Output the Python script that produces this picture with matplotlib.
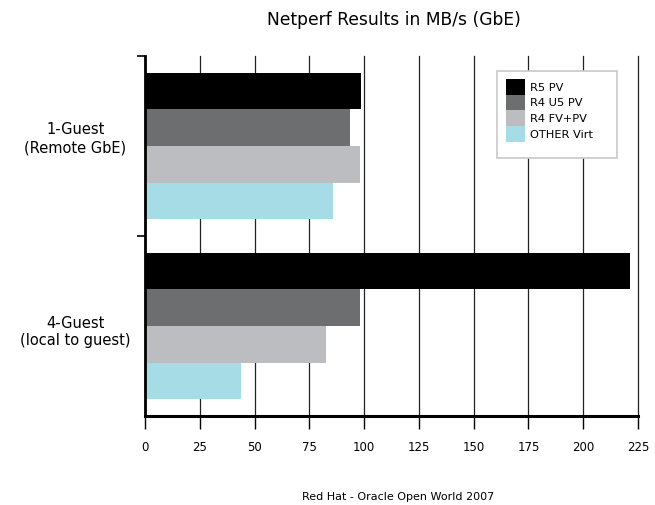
import matplotlib
matplotlib.use("Agg")
import matplotlib.pyplot as plt
from matplotlib.patches import Rectangle
from matplotlib.transforms import ScaledTranslation
import numpy as np

categories = ["1-Guest\n(Remote GbE)", "4-Guest\n(local to guest)"]
series_names = ["R5 PV", "R4 U5 PV", "R4 FV+PV", "OTHER Virt"]
series_values = {
    "R5 PV": [98.4, 221.4],
    "R4 U5 PV": [93.6, 98.0],
    "R4 FV+PV": [98.1, 82.6],
    "OTHER Virt": [85.7, 43.8],
}
colors = ["#000000", "#6d6e70", "#bcbdc0", "#a5dce6"]
x_ticks = [0, 25, 50, 75, 100, 125, 150, 175, 200, 225]

plt.rcParams['font.family'] = ['DejaVu Sans']

W, H = 655, 505
fig = plt.figure(figsize=(6.55, 5.05), dpi=100)
ax = fig.add_axes([145/W, 1-416/H, (638-145)/W, (416-56)/H])

h = 0.203
ypos = np.arange(len(categories))
for i, name in enumerate(series_names):
    ax.barh(ypos + (i - 1.5) * h, series_values[name], height=h,
            color=colors[i], label=name, zorder=3, linewidth=0)

ax.set_xlim(0, 225)
ax.set_ylim(len(categories) - 0.5, -0.5)

ax.set_xticks(x_ticks)
ax.set_xticklabels([str(t) for t in x_ticks], fontsize=8.5)
ax.tick_params(axis='x', direction='out', length=9, width=1, pad=9, color='black')
for t in x_ticks:
    ax.axvline(t, color='#222222', linewidth=0.9, zorder=1, clip_on=False)

ax.set_yticks([-0.5, 0.5])
ax.set_yticklabels([])
ax.set_yticks(ypos, minor=True)
ax.set_yticklabels(categories, minor=True, fontsize=10.5, ha='center', linespacing=1.25)
ax.tick_params(axis='y', which='major', direction='out', length=6, width=1.2)
ax.tick_params(axis='y', which='minor', length=0, pad=50)
# vertical nudges of category labels (pixels, upward positive)
label_nudge_px = [10, -3]
for lab, dy in zip(ax.get_yticklabels(minor=True), label_nudge_px):
    lab.set_transform(lab.get_transform() + ScaledTranslation(0, dy/100, fig.dpi_scale_trans))

for s in ['top', 'right']:
    ax.spines[s].set_visible(False)
ax.spines['left'].set_linewidth(2)
ax.spines['bottom'].set_linewidth(2.2)
ax.spines['left'].set_zorder(5)
ax.spines['bottom'].set_zorder(5)

def axfrac(px, py):
    return (px-145)/(638-145), (416-py)/(416-56)

fx0, fy1 = axfrac(497, 71)
fx1, fy0 = axfrac(617, 158)
ax.add_patch(Rectangle((fx0, fy0), fx1-fx0, fy1-fy0, transform=ax.transAxes,
                       facecolor='white', edgecolor='#c8c8c8', linewidth=1.2,
                       zorder=6, clip_on=False))
ax0, ay0 = axfrac(506, 79)
leg = ax.legend(loc='upper left', bbox_to_anchor=(ax0, ay0),
                fontsize=8.2, frameon=False, handlelength=1.7,
                handleheight=1.75, handletextpad=0.45, labelspacing=0.0,
                borderpad=0.0, borderaxespad=0)
leg.set_zorder(7)

fig.text(394/W, 1-20/H, "Netperf Results in MB/s (GbE)", ha='center', va='center', fontsize=12.3)
fig.text(398/W, 1-497/H, "Red Hat - Oracle Open World 2007", ha='center', va='center', fontsize=8)

fig.savefig("out.png", dpi=100)
